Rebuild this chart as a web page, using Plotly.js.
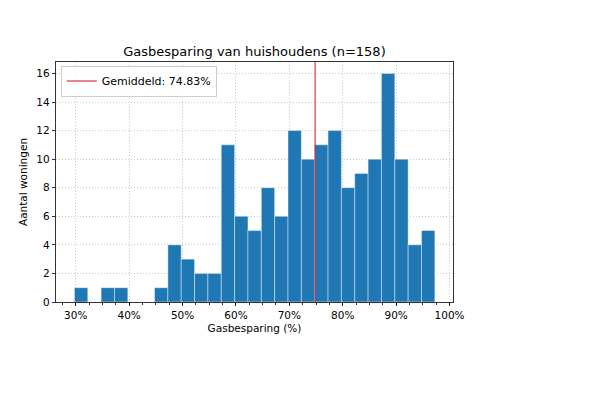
<!DOCTYPE html>
<html>
<head>
<meta charset="utf-8">
<script src="https://cdn.plot.ly/plotly-3.0.1.min.js"></script>
<style>html,body{margin:0;padding:0;background:#fff;} #chart{width:600px;height:400px;}</style>
</head>
<body>
<div id="chart"></div>
<script>
// Histogram bins (lower edge, %) and counts per bin
const binStart = 29.75;
const binWidth = 2.5;
const counts = [1, 0, 1, 1, 0, 0, 1, 4, 3, 2, 2, 11, 6, 5, 8, 6, 12, 10, 11, 12, 8, 9, 10, 16, 10, 4, 5];
const meanValue = 74.83;
const tickVals = [30, 40, 50, 60, 70, 80, 90, 100];
const tickText = ["30%", "40%", "50%", "60%", "70%", "80%", "90%", "100%"];
const yTicks = [0, 2, 4, 6, 8, 10, 12, 14, 16];

const centers = counts.map((c, i) => binStart + binWidth * (i + 0.5));

const font = "DejaVu Sans, sans-serif";
const trace = {
  type: "bar",
  x: centers,
  y: counts,
  width: binWidth,
  marker: {color: "#1f77b4", line: {color: "rgba(255,255,255,0.6)", width: 0.7}},
  showlegend: false,
  hoverinfo: "x+y"
};

const gridDash = "1px,2px";
const layout = {
  width: 600, height: 400,
  margin: {l: 56, r: 147, t: 62, b: 98},
  paper_bgcolor: "#fff", plot_bgcolor: "#fff",
  font: {family: font, size: 10, color: "#000"},
  title: {text: "Gasbesparing van huishoudens (n=158)", font: {family: font, size: 13, color: "#000"},
          x: 0.5, xref: "paper", y: 1, yref: "paper", yanchor: "bottom", pad: {b: 6}},
  bargap: 0,
  xaxis: {
    range: [26.3, 100.65], tickvals: tickVals, ticktext: tickText,
    ticks: "outside", ticklen: 3.5, tickcolor: "#000", tickwidth: 0.8,
    showline: true, linecolor: "#000", linewidth: 0.8, mirror: true,
    showgrid: true, gridcolor: "#bdbdbd", griddash: gridDash, gridwidth: 0.8,
    zeroline: false,
    minor: {dtick: 2.5, tick0: 0, ticks: "outside", ticklen: 2, tickcolor: "#000", showgrid: false},
    title: {text: "Gasbesparing (%)", font: {family: font, size: 10.5}, standoff: 4},
    tickfont: {family: font, size: 10.5}
  },
  yaxis: {
    range: [0, 16.8], tickvals: yTicks,
    ticks: "outside", ticklen: 3.5, tickcolor: "#000", tickwidth: 0.8,
    showline: true, linecolor: "#000", linewidth: 0.8, mirror: true,
    showgrid: true, gridcolor: "#bdbdbd", griddash: gridDash, gridwidth: 0.8,
    zeroline: false,
    title: {text: "Aantal woningen", font: {family: font, size: 10.5}, standoff: 6},
    tickfont: {family: font, size: 10.5}
  },
  shapes: [{
    type: "line", xref: "x", yref: "paper", x0: meanValue, x1: meanValue, y0: 0, y1: 1,
    line: {color: "rgba(214,39,40,0.75)", width: 1.5},
    showlegend: true, name: "Gemiddeld: " + meanValue.toFixed(2) + "%"
  }],
  legend: {
    x: 0.012, y: 0.985, xanchor: "left", yanchor: "top",
    bgcolor: "rgba(255,255,255,0.8)", bordercolor: "#cccccc", borderwidth: 1,
    font: {family: font, size: 11}, itemwidth: 30, tracegroupgap: 0
  }
};

Plotly.newPlot("chart", [trace], layout, {displayModeBar: false, staticPlot: true});
</script>
</body>
</html>
